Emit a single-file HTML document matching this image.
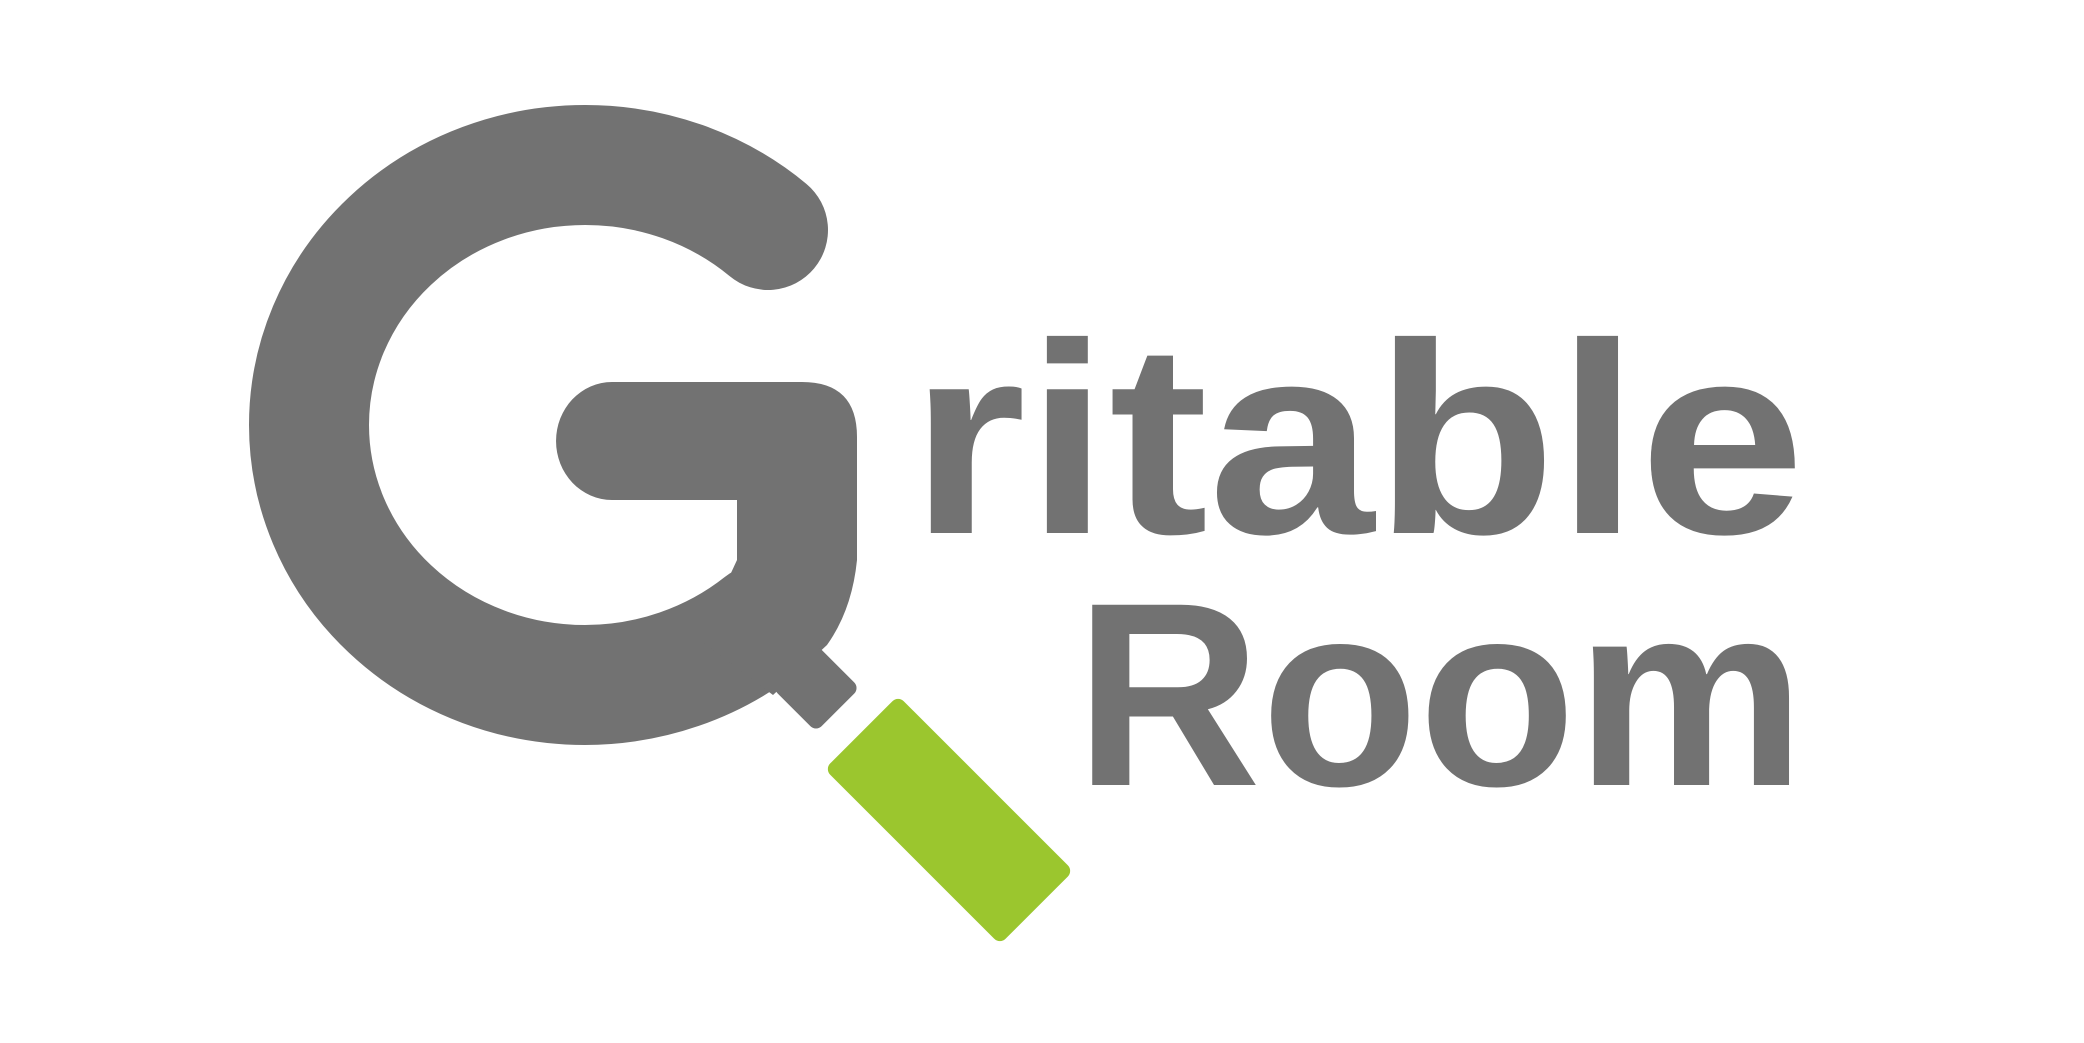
<!DOCTYPE html>
<html><head><meta charset="utf-8"><style>
html,body{margin:0;padding:0;background:#fff;}
svg{display:block;}
</style></head><body>
<svg width="2084" height="1043" viewBox="0 0 2084 1043" xmlns="http://www.w3.org/2000/svg">
  <g fill="#727272">
    <path d="M768 230 A276 260 0 0 0 585 165 A276 260 0 0 0 309 425 A276 260 0 0 0 585 685 A276 260 0 0 0 762 624" fill="none" stroke="#727272" stroke-width="120" stroke-linecap="round"/>
    <path d="M612 382 L802 382 Q857 382 857 437 L857 560 Q852 610 827 645 L773 695 L700 640 L737 560 L737 500 L612 500 A56 59 0 0 1 612 382 Z"/>
    <rect x="-31" y="-31" width="62" height="62" rx="8" transform="translate(816 688) rotate(45)"/>
    <rect x="-124" y="-52" width="248" height="104" rx="8" fill="#9BC62E" transform="translate(949 820) rotate(45)"/>
  </g>
  <text x="910" y="533" font-family="Liberation Sans, sans-serif" font-weight="bold" font-size="272" fill="#727272" textLength="895" lengthAdjust="spacingAndGlyphs">ritable</text>
  <text x="1075" y="785" font-family="Liberation Sans, sans-serif" font-weight="bold" font-size="262" fill="#727272" textLength="730" lengthAdjust="spacingAndGlyphs">Room</text>
</svg>
</body></html>
